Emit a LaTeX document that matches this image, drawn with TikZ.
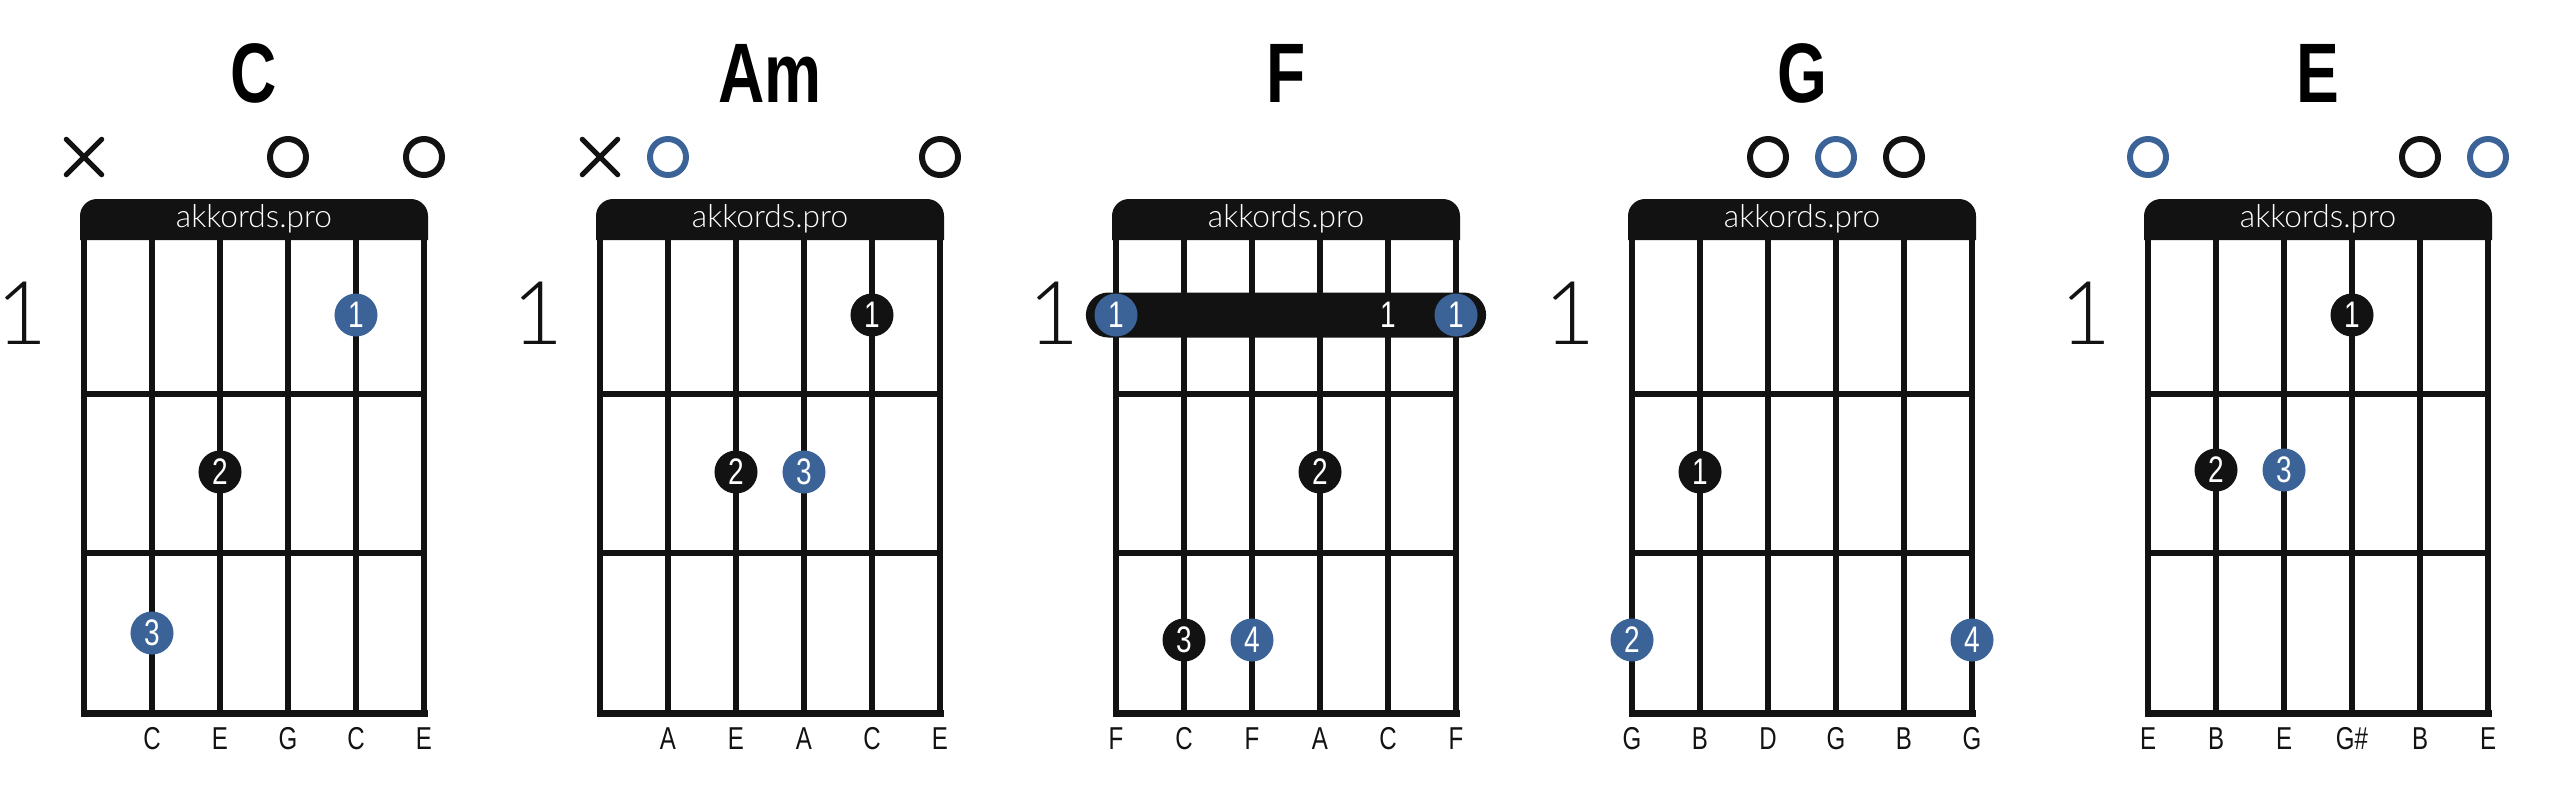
\documentclass[tikz,border=0pt]{standalone}
\usepackage{fontspec}
\setmainfont{Liberation Sans}
\newfontfamily\narrowfont[FakeStretch=0.76]{Liberation Sans}
\newfontfamily\lightfont{Lato Light}
\usetikzlibrary{positioning, shapes.misc}

\definecolor{neckblack}{HTML}{121212}
\definecolor{fingerblue}{HTML}{3C6398}

% empty chord box: #1 = chord name, #2 = x of the first string
\newcommand{\chordbox}[2]{%
  \fill[neckblack] (#2-4,240) -- (#2-4,216) arc[start angle=180, end angle=90, radius=0.17cm]
    -- (#2+327,199) arc[start angle=90, end angle=0, radius=0.17cm] -- (#2+344,240) -- cycle;
  \foreach \s in {0,...,5} \draw[string] (#2+\s*68,238) -- (#2+\s*68,713);
  \foreach \f in {394,553} \draw[string] (#2,\f) -- (#2+340,\f);
  \draw[string, line width=2pt] (#2-3.5,713) -- (#2+343.5,713);
  \node[chordname] (#1-name) at (#2+170,102) {#1};
  \node[logo] (#1-logo) at (#2+170,227) {akkords.pro};
  \node[fretnum] (#1-fret) at (#2-62,344) {1};
}

\begin{document}
\begin{tikzpicture}[x=0.01cm, y=-0.01cm,
    string/.style={neckblack, line width=1.85pt},
    chordname/.style={font=\narrowfont\bfseries\fontsize{24}{24}\selectfont, anchor=base, inner sep=0},
    logo/.style={font=\lightfont\fontsize{9}{9}\selectfont, text=white, anchor=base, inner sep=0},
    fretnum/.style={font=\lightfont\fontsize{25}{25}\selectfont, text=neckblack, anchor=base, inner sep=0},
    note/.style={font=\narrowfont\fontsize{9}{9}\selectfont, text=neckblack, anchor=base, inner sep=0},
    dot/.style={circle, fill=neckblack, text=white, inner sep=0, minimum size=0.43cm, font=\narrowfont\fontsize{10.5}{10.5}\selectfont},
    bluedot/.style={dot, fill=fingerblue},
    open/.style={circle, draw=neckblack, line width=1.7pt, minimum size=0.36cm, inner sep=0},
    blueopen/.style={open, draw=fingerblue},
    muted/.style={cross out, draw=neckblack, line width=1.5pt, line cap=round, minimum size=0.3cm, inner sep=0},
    barre/.style={rounded rectangle, fill=neckblack, minimum width=4cm, minimum height=0.45cm, inner sep=0},
    fingernum/.style={text=white, inner sep=0, font=\narrowfont\fontsize{10.5}{10.5}\selectfont}]
    \useasboundingbox (0,0) rectangle (2560,796);

    % C
    \chordbox{C}{84}
    \node[muted] (C-x1) at (84,157) {};
    \node[open] (C-o4) at (288,157) {};
    \node[open] (C-o6) at (424,157) {};
    \node[bluedot] (C-d1) at (356,315) {1};
    \node[dot] (C-d2) at (220,472) {2};
    \node[bluedot] (C-d3) at (152,633) {3};
    \foreach \n [count=\i] in {C,E,G,C,E} \node[note] (C-s\i) at (84+\i*68,749) {\n};

    % Am
    \chordbox{Am}{600}
    \node[muted] (Am-x1) at (600,157) {};
    \node[blueopen] (Am-o2) at (668,157) {};
    \node[open] (Am-o6) at (940,157) {};
    \node[dot] (Am-d1) at (872,315) {1};
    \node[dot] (Am-d2) at (736,472) {2};
    \node[bluedot] (Am-d3) at (804,472) {3};
    \foreach \n [count=\i] in {A,E,A,C,E} \node[note] (Am-s\i) at (600+\i*68,749) {\n};

    % F
    \chordbox{F}{1116}
    \node[barre] (F-barre) at (1286,315) {};
    \node[bluedot] (F-d1a) at (1116,315) {1};
    \node[bluedot] (F-d1b) at (1456,315) {1};
    \node[fingernum] (F-b5) at (1388,315) {1};
    \node[dot] (F-d2) at (1320,472) {2};
    \node[dot] (F-d3) at (1184,640) {3};
    \node[bluedot] (F-d4) at (1252,640) {4};
    \foreach \n [count=\i from 0] in {F,C,F,A,C,F} \node[note] (F-s\i) at (1116+\i*68,749) {\n};

    % G
    \chordbox{G}{1632}
    \node[open] (G-o3) at (1768,157) {};
    \node[blueopen] (G-o4) at (1836,157) {};
    \node[open] (G-o5) at (1904,157) {};
    \node[dot] (G-d1) at (1700,472) {1};
    \node[bluedot] (G-d2) at (1632,640) {2};
    \node[bluedot] (G-d4) at (1972,640) {4};
    \foreach \n [count=\i from 0] in {G,B,D,G,B,G} \node[note] (G-s\i) at (1632+\i*68,749) {\n};

    % E
    \chordbox{E}{2148}
    \node[blueopen] (E-o1) at (2148,157) {};
    \node[open] (E-o5) at (2420,157) {};
    \node[blueopen] (E-o6) at (2488,157) {};
    \node[dot] (E-d1) at (2352,315) {1};
    \node[dot] (E-d2) at (2216,470) {2};
    \node[bluedot] (E-d3) at (2284,470) {3};
    \foreach \n [count=\i from 0] in {E,B,E,G\#,B,E} \node[note] (E-s\i) at (2148+\i*68,749) {\n};
\end{tikzpicture}
\end{document}
